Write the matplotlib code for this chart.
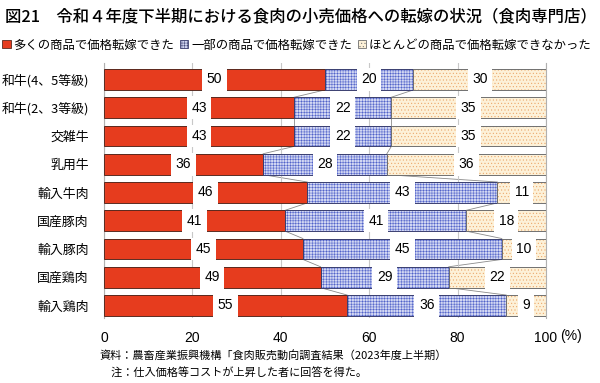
import matplotlib
matplotlib.use("Agg")
import matplotlib.pyplot as plt
from matplotlib.patches import Patch
import numpy as np

plt.rcParams['font.family'] = ['Noto Sans CJK JP', 'DejaVu Sans']
plt.rcParams['hatch.linewidth'] = 0.35

# datos
categorias = ["和牛(4、5等級)", "和牛(2、3等級)", "交雑牛", "乳用牛", "輸入牛肉",
              "国産豚肉", "輸入豚肉", "国産鶏肉", "輸入鶏肉"]
muchos = [50, 43, 43, 36, 46, 41, 45, 49, 55]
algunos = [20, 22, 22, 28, 43, 41, 45, 29, 36]
casi_ninguno = [30, 35, 35, 36, 11, 18, 10, 22, 9]
series_nombres = ["多くの商品で価格転嫁できた", "一部の商品で価格転嫁できた",
                  "ほとんどの商品で価格転嫁できなかった"]
x_ticks = [0, 20, 40, 60, 80, 100]

# estilos: (color de fondo, trama, color de trama, borde)
estilos = [
    ("#e63c1e", None, "#e63c1e", "#5a2a20"),
    ("#d2d7f3", "++++++", "#4d5fc8", "#3a3f70"),
    ("#fdf1d8", ".....", "#eaa262", "#707070"),
]

fig = plt.figure(figsize=(6, 3.83), dpi=100)
ax = fig.add_axes([104 / 600, 1 - 318.2 / 383, 442 / 600, (318.2 - 62.5) / 383])

y = np.arange(len(categorias))
alto = 0.74
datos = [muchos, algunos, casi_ninguno]
izq = np.zeros(len(categorias))
finales = []
for valores, (fc, hatch, hc, ec) in zip(datos, estilos):
    valores = np.array(valores, dtype=float)
    ax.barh(y, valores, left=izq, height=alto, color=fc, hatch=hatch,
            edgecolor=hc, linewidth=0, zorder=2)
    ax.barh(y, valores, left=izq, height=alto, color="none",
            edgecolor=ec, linewidth=0.7, zorder=3)
    for yi, l, v in zip(y, izq, valores):
        ax.text(l + v / 2, yi, f"{int(v)}", ha="center", va="center",
                fontsize=10, family="Liberation Sans", zorder=5,
                bbox=dict(boxstyle="square,pad=0.32", fc="white", ec="none"))
    izq = izq + valores
    finales.append(izq.copy())

# lineas de serie entre barras
for fin in finales[:2]:
    for i in range(len(categorias) - 1):
        ax.plot([fin[i], fin[i + 1]], [i + alto / 2, i + 1 - alto / 2],
                color="#8a8a8a", linewidth=0.6, zorder=1)

ax.set_xlim(0, 100)
ax.set_ylim(len(categorias) - 0.55, -0.6)
ax.set_xticks(x_ticks)
ax.set_xticklabels([str(t) for t in x_ticks], family="Liberation Sans", fontsize=10)
ax.set_yticks(y)
ax.set_yticklabels(categorias, fontsize=9.3)
ax.tick_params(length=0, pad=9, axis="x")
ax.tick_params(length=0, pad=11, axis="y")
ax.grid(axis="x", color="#c8c8c8", linewidth=0.8, zorder=0)
for lado in ["top", "bottom"]:
    ax.spines[lado].set_visible(False)
for lado in ["left", "right"]:
    ax.spines[lado].set_color("#b0b0b0")
    ax.spines[lado].set_linewidth(0.8)

ax.annotate("(%)", xy=(1.0, 0), xycoords="axes fraction", xytext=(10, -12.5),
            textcoords="offset points", ha="left", va="center", fontsize=10,
            family="Liberation Sans")

fig.text(5 / 600, 1 - 17 / 383,
         "図21　令和４年度下半期における食肉の小売価格への転嫁の状況（食肉専門店）",
         fontsize=11.8, ha="left", va="center", weight="medium")

handles = [Patch(facecolor=fc, hatch=hatch, edgecolor=ec, linewidth=0.6)
           for fc, hatch, hc, ec in estilos]
fig.legend(handles, series_nombres, loc="center left", bbox_to_anchor=(0.0, 1 - 45 / 383),
           ncol=3, frameon=False, fontsize=8.9, handlelength=0.65, handleheight=0.65,
           handletextpad=0.25, columnspacing=0.45, borderaxespad=0, borderpad=0.2)

fig.text(100 / 600, 1 - 356 / 383,
         "資料：農畜産業振興機構「食肉販売動向調査結果（2023年度上半期）",
         fontsize=8, ha="left", va="center")
fig.text(100 / 600, 1 - 373 / 383,
         "　注：仕入価格等コストが上昇した者に回答を得た。",
         fontsize=8, ha="left", va="center")

fig.savefig("out.png", dpi=100)
